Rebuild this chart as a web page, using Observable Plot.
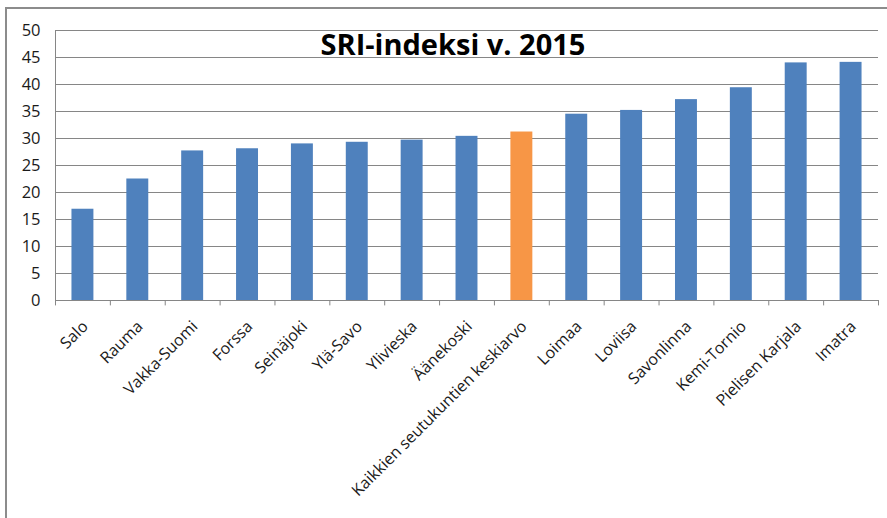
<!DOCTYPE html>
<html><head><meta charset="utf-8">
<script src="https://cdn.jsdelivr.net/npm/d3@7"></script>
<script src="https://cdn.jsdelivr.net/npm/@observablehq/plot@0.6"></script>
<style>
body{margin:0;background:#fff;}
#wrap{position:relative;width:887px;height:518px;overflow:hidden;background:#fff;}
#frame{position:absolute;left:5px;top:7px;right:-10px;bottom:-10px;border-left:2px solid #8c8c8c;border-top:2px solid #8c8c8c;pointer-events:none;}
#title{position:absolute;left:0;top:29px;width:906px;text-align:center;font-family:"Open Sans",sans-serif;font-weight:700;font-size:29px;line-height:29px;color:#000;}
#chart{position:absolute;left:0;top:0;}
</style></head>
<body>
<div id="wrap"><div id="chart"></div><div id="frame"></div><div id="title">SRI-indeksi v. 2015</div></div>
<script>
const categories = ["Salo","Rauma","Vakka-Suomi","Forssa","Seinäjoki","Ylä-Savo","Ylivieska","Äänekoski","Kaikkien seutukuntien keskiarvo","Loimaa","Loviisa","Savonlinna","Kemi-Tornio","Pielisen Karjala","Imatra"];
const values = [16.9,22.5,27.7,28.1,29.0,29.3,29.7,30.4,31.2,34.5,35.2,37.2,39.4,44.0,44.1];
const highlight = "Kaikkien seutukuntien keskiarvo";
const yTicks = [0,5,10,15,20,25,30,35,40,45,50];

const data = categories.map((c,i)=>({region:c, value:values[i], avg:c===highlight}));
const W=887, H=518, mL=55, mR=9, mT=30, mB=218;
const step=(W-mL-mR)/categories.length;
const grid="#868686";

const chart = Plot.plot({
  width:W, height:H, marginLeft:mL, marginRight:mR, marginTop:mT, marginBottom:mB,
  style:{fontFamily:"'Open Sans',sans-serif", fontSize:"16px", color:"#1a1a1a", background:"transparent"},
  x:{domain:categories, paddingInner:0.6, paddingOuter:0.3, round:false, axis:null},
  y:{domain:[0,50], axis:null},
  marks:[
    Plot.gridY(yTicks,{stroke:grid, strokeOpacity:1}),
    Plot.barY(data,{x:"region", y:"value", fill:d=>d.avg?"#F79646":"#4F81BD"}),
    Plot.ruleY([0],{stroke:grid}),
    Plot.ruleX([categories[0]],{dx:-step/2, y1:0, y2:50, stroke:grid}),
    Plot.ruleX(categories,{dx:-step/2, y1:0, y2:-1, stroke:grid}),
    Plot.ruleX([categories[categories.length-1]],{dx:step/2, y1:0, y2:-1, stroke:grid}),
    Plot.ruleY(yTicks,{x:categories[0], dx:-step/2-5, stroke:grid}),
    Plot.text(yTicks,{y:d=>d, frameAnchor:"left", dx:-15, textAnchor:"end", fontSize:16.5, fill:"#1a1a1a"}),
    Plot.text(categories,{x:d=>d, frameAnchor:"bottom", rotate:-45, textAnchor:"end", dx:6, dy:27, fontSize:16, fill:"#1a1a1a"})
  ]
});
document.getElementById("chart").appendChild(chart);
</script>
</body></html>
